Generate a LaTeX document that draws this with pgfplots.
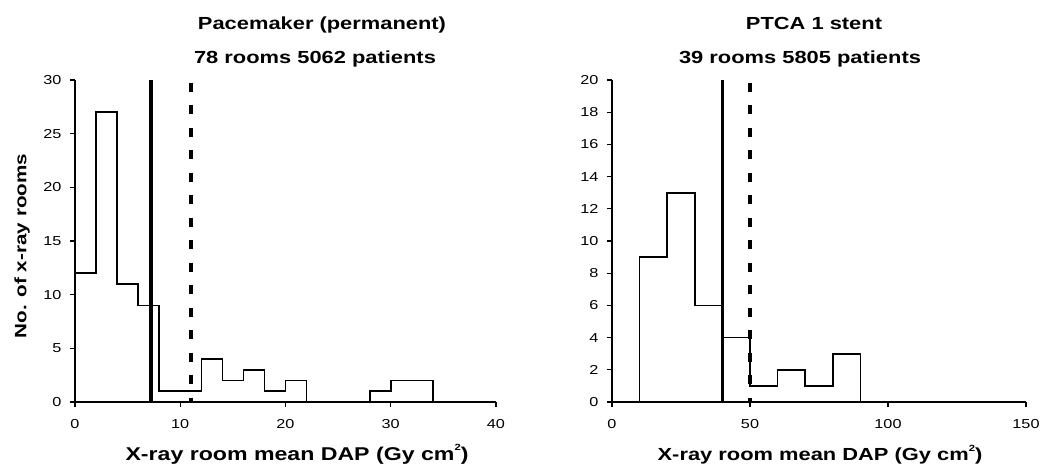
\documentclass[border=0pt]{standalone}
\usepackage{fontspec}
\usepackage{pgfplots}
\pgfplotsset{compat=1.18}
\newfontfamily\chartfont{Liberation Sans}[FakeStretch=1.25]
\newcommand\sqcm{cm\raisebox{0.95ex}{\fontsize{9}{9}\selectfont 2}}

% Room-mean DAP histograms: step outlines, bin left edges with closing points
\pgfplotstableread{
x y
0 0
0 12
2 27
4 11
6 9
8 1
10 1
12 4
14 2
16 3
18 1
20 2
22 0
28 1
30 2
32 2
34 0
}\pacemaker
\pgfplotstableread{
x y
10 0
10 9
20 13
30 6
40 4
50 1
60 2
70 1
80 3
90 0
}\ptca

\pgfplotsset{
  dapaxis/.style={
    scale only axis,
    anchor=south west,
    axis x line*=bottom,
    axis y line*=left,
    axis line style={line width=1.3pt, -},
    tick style={line width=1.2pt, black},
    tick align=outside,
    major tick length=5pt,
    ymin=0,
    /pgf/number format/assume math mode=true,
    ticklabel style={font=\chartfont\fontsize{13}{13}\selectfont},
    xticklabel style={yshift=-9pt},
    yticklabel style={xshift=-5pt},
    clip=false,
  },
  hist/.style={const plot mark left, black, line width=1.6pt, mark=none},
  median/.style={black, line width=3.5pt},
  third/.style={black, line width=3.5pt, dash pattern=on 9pt off 13.5pt, dash phase=-2.5pt},
}

\begin{document}
\begin{tikzpicture}
\useasboundingbox (0,0) rectangle (1047pt,469pt);

% Pacemaker (permanent)
\begin{axis}[dapaxis, at={(75pt,67pt)}, width=421pt, height=322pt,
  xmin=0, xmax=40, ymax=30,
  xtick={0,10,20,30,40}, ytick={0,5,...,30}]
  \addplot[hist] table[x=x,y=y] {\pacemaker};
  \addplot[median] coordinates {(7.2,0) (7.2,30)};
  \addplot[third] coordinates {(11,30) (11,0)};
\end{axis}

% PTCA 1 stent
\begin{axis}[dapaxis, at={(612pt,67pt)}, width=414pt, height=322pt,
  xmin=0, xmax=150, ymax=20,
  xtick={0,50,100,150}, ytick={0,2,...,20}]
  \addplot[hist] table[x=x,y=y] {\ptca};
  \addplot[median] coordinates {(40,0) (40,20)};
  \addplot[third] coordinates {(50,20) (50,0)};
\end{axis}

% titles and axis labels
\begin{scope}[every node/.style={inner sep=0pt, anchor=base}]
  \node at (322pt,439.7pt) {\chartfont\bfseries\fontsize{17.5}{17.5}\selectfont Pacemaker (permanent)};
  \node at (315pt,405.7pt) {\chartfont\bfseries\fontsize{17.5}{17.5}\selectfont 78 rooms 5062 patients};
  \node at (814pt,439.7pt) {\chartfont\bfseries\fontsize{17.5}{17.5}\selectfont PTCA 1 stent};
  \node at (800pt,405.7pt) {\chartfont\bfseries\fontsize{17.5}{17.5}\selectfont 39 rooms 5805 patients};
  \node at (297pt,9pt) {\chartfont\bfseries\fontsize{18.5}{18.5}\selectfont X-ray room mean DAP (Gy \sqcm)};
  \node at (820pt,9pt) {\chartfont\bfseries\fontsize{17.5}{17.5}\selectfont X-ray room mean DAP (Gy \sqcm)};
\end{scope}
\node[inner sep=0pt, rotate=90] at (22pt,223pt) {\chartfont\bfseries\fontsize{16.5}{16.5}\selectfont No. of x-ray rooms};
\end{tikzpicture}
\end{document}
